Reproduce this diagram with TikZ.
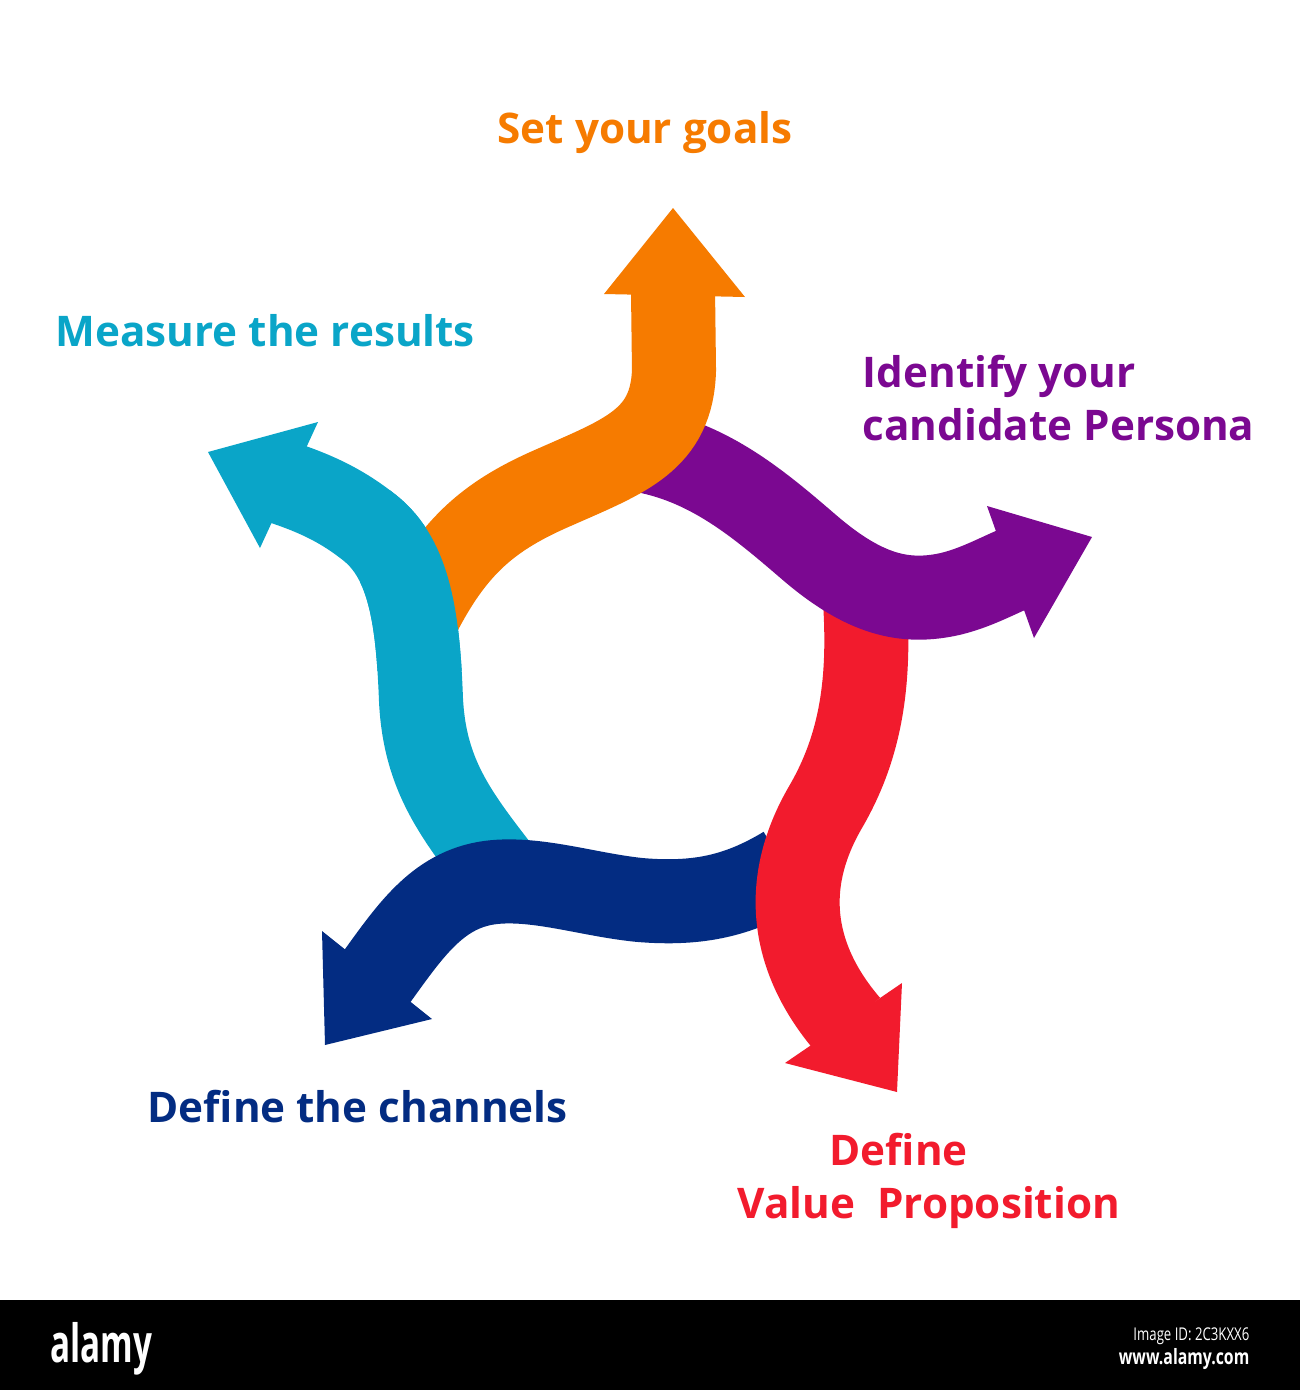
\documentclass[tikz,border=0pt]{standalone}
\usepackage{fontspec}
\setmainfont{Open Sans}
\definecolor{goalorange}{RGB}{246,123,0}
\definecolor{personapurple}{RGB}{123,8,145}
\definecolor{valuered}{RGB}{242,27,45}
\definecolor{channelblue}{RGB}{3,44,130}
\definecolor{measurecyan}{RGB}{10,165,200}
\tikzset{
  band/.style={line width=8.4mm},
  lbl/.style={font=\fontsize{12}{15}\selectfont\bfseries, inner sep=0pt, align=left}
}
\begin{document}
\begin{tikzpicture}[x=0.01cm,y=-0.01cm]
\fill[white] (0,0) rectangle (1300,1390);
\useasboundingbox (0,0) rectangle (1300,1390);
\draw[band,measurecyan] (510,885) .. controls (460,820) and (425,780) .. (421,700) .. controls (418,620) and (410,560) .. (370,528) .. controls (345,508) and (320,495) .. (284,483);
\fill[measurecyan] (318,422) -- (208,452) -- (260,548) -- cycle;
\draw[band,channelblue] (785,868) .. controls (740,895) and (700,905) .. (640,900) .. controls (590,895) and (540,878) .. (495,882) .. controls (440,887) and (412,928) .. (376,978);
\fill[channelblue] (322,931) -- (325,1045) -- (432,1019) -- cycle;
\draw[band,valuered] (865,600) .. controls (870,680) and (862,745) .. (825,808) .. controls (772,900) and (805,975) .. (848,1025);
\fill[valuered] (785,1063) -- (897,1092) -- (902,983) -- cycle;
\draw[band,personapurple] (640,450) .. controls (710,462) and (760,505) .. (810,548) .. controls (865,595) and (905,604) .. (950,594) .. controls (975,588) and (995,577) .. (1016,568);
\fill[personapurple] (987,506) -- (1092,537) -- (1034,638) -- cycle;
\draw[band,goalorange] (420,612) .. controls (455,545) and (490,515) .. (555,487) .. controls (625,456) and (672,440) .. (674,370) -- (673,290);
\fill[goalorange] (604,294) -- (673,208) -- (745,297) -- cycle;
\begin{scope}
  \clip (360,490) rectangle (475,670);
  \draw[band,measurecyan] (510,885) .. controls (460,820) and (425,780) .. (421,700) .. controls (418,620) and (410,560) .. (370,528) .. controls (345,508) and (320,495) .. (284,483);
\end{scope}
\node[lbl,goalorange,anchor=base west] (goals) at (497,143) {Set your goals};
\node[lbl,measurecyan,anchor=base west] (measure) at (55,346) {Measure the results};
\node[lbl,personapurple,anchor=base west] (persona) at (862,440) {Identify your\\candidate Persona};
\node[lbl,channelblue,anchor=base west] (channels) at (147,1122) {Define the channels};
\node[lbl,valuered,anchor=base west] (value) at (737,1218) {\hspace*{0.92cm}Define\\Value\ \ Proposition};
\fill[black] (0,1300) rectangle (1300,1390);
\node[white,anchor=base west,inner sep=0pt,font=\fontsize{15}{15}\selectfont\bfseries] (alamy) at (50,1362) {\scalebox{0.63}[1]{alamy}};
\node[white,anchor=base east,inner sep=0pt,font=\fontsize{5}{6}\selectfont] (imageid) at (1250,1340) {\scalebox{0.75}[1]{Image ID: 2C3KXX6}};
\node[white,anchor=base east,inner sep=0pt,font=\fontsize{6}{6}\selectfont\bfseries] (site) at (1250,1364) {\scalebox{0.75}[1]{www.alamy.com}};
\end{tikzpicture}
\end{document}
